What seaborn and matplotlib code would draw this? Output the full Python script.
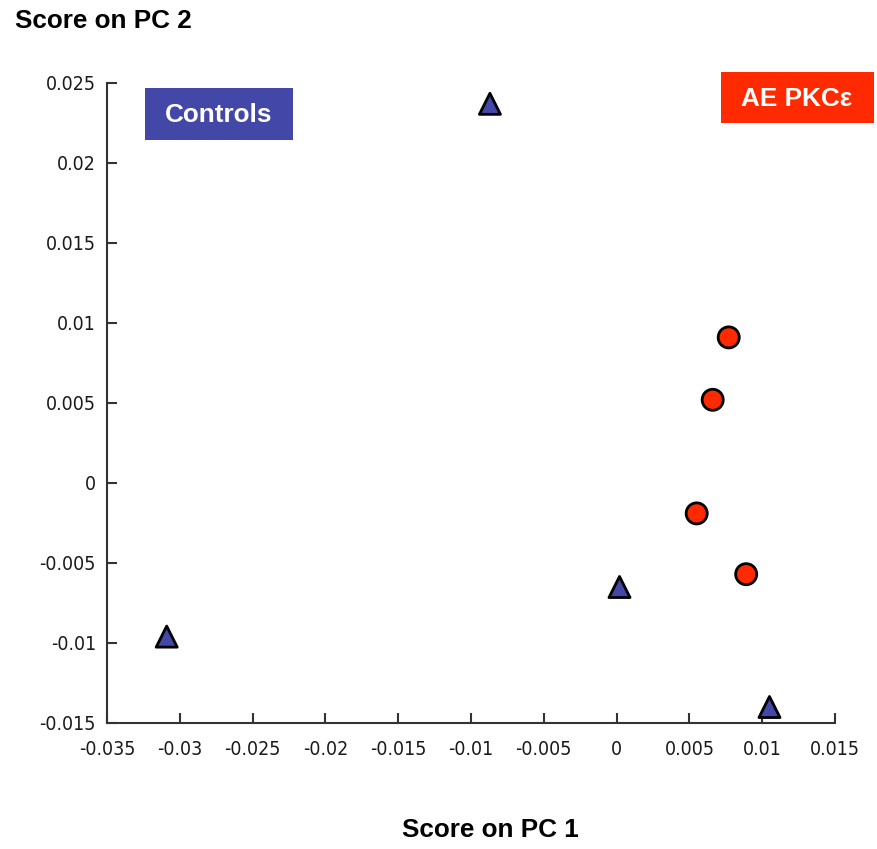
import matplotlib
matplotlib.use("Agg")
import matplotlib.pyplot as plt
from matplotlib.patches import Rectangle
import seaborn as sns
import pandas as pd

# Data
groups = ["Controls", "Controls", "Controls", "Controls",
          "AE PKCε", "AE PKCε", "AE PKCε", "AE PKCε"]
pc1 = [-0.0087, -0.0309, 0.0002, 0.0105, 0.0077, 0.0066, 0.0055, 0.0089]
pc2 = [0.0237, -0.0096, -0.0065, -0.0140, 0.0091, 0.0052, -0.0019, -0.0057]
xticks = [-0.035, -0.03, -0.025, -0.02, -0.015, -0.01, -0.005, 0, 0.005, 0.01, 0.015]
xtick_labels = ["-0.035", "-0.03", "-0.025", "-0.02", "-0.015", "-0.01", "-0.005", "0", "0.005", "0.01", "0.015"]
yticks = [-0.015, -0.01, -0.005, 0, 0.005, 0.01, 0.015, 0.02, 0.025]
ytick_labels = ["-0.015", "-0.01", "-0.005", "0", "0.005", "0.01", "0.015", "0.02", "0.025"]

df = pd.DataFrame({"group": groups, "pc1": pc1, "pc2": pc2})

sns.set_theme(style="white")
plt.rcParams['font.family'] = ['Liberation Sans', 'DejaVu Sans']

W, H = 877, 849
fig = plt.figure(figsize=(W / 100, H / 100), dpi=100)
ax = fig.add_axes([107 / W, 1 - 723 / H, (835 - 107) / W, (723 - 83) / H])

palette = {"Controls": "#4347A8", "AE PKCε": "#FF2A00"}
markers = {"Controls": "^", "AE PKCε": "o"}
sns.scatterplot(data=df, x="pc1", y="pc2", hue="group", style="group",
                palette=palette, markers=markers, s=230, edgecolor="black",
                linewidth=2, legend=False, ax=ax, zorder=3)

ax.set_xlim(-0.035, 0.015)
ax.set_ylim(-0.015, 0.025)
ax.set_xticks(xticks)
ax.set_xticklabels(xtick_labels)
ax.set_yticks(yticks)
ax.set_yticklabels(ytick_labels)
for lab in ax.get_xticklabels() + ax.get_yticklabels():
    lab.set_family('DejaVu Sans')
    lab.set_stretch('condensed')
    lab.set_fontsize(14)
    lab.set_color('#1a1a1a')
ax.tick_params(direction='in', length=7, width=1.5, colors='#333333',
               labelcolor='#1a1a1a', pad=8, bottom=True, left=True)
ax.tick_params(axis='x', pad=12)
for s in ["top", "right"]:
    ax.spines[s].set_visible(False)
for s in ["left", "bottom"]:
    ax.spines[s].set_color('#333333')
    ax.spines[s].set_linewidth(1.5)
ax.set_xlabel("")
ax.set_ylabel("")

title_font = dict(family=['Liberation Sans', 'DejaVu Sans'], fontsize=18.8, fontweight='bold')

fig.text(15 / W, 1 - 21 / H, "Score on PC 2", ha='left', va='center',
         color='black', **title_font)
fig.text(490 / W, 1 - 830 / H, "Score on PC 1", ha='center', va='center',
         color='black', **title_font)

# Group label boxes
fig.add_artist(Rectangle((145 / W, 1 - 140 / H), 148 / W, 52 / H,
                         transform=fig.transFigure, facecolor='#4347A8',
                         edgecolor='none'))
fig.text(219 / W, 1 - 115 / H, "Controls", ha='center', va='center',
         color='white', **title_font)
fig.add_artist(Rectangle((721 / W, 1 - 123 / H), 153 / W, 51 / H,
                         transform=fig.transFigure, facecolor='#FF2A00',
                         edgecolor='none'))
fig.text(797 / W, 1 - 99 / H, "AE PKCε", ha='center', va='center',
         color='white', **title_font)

fig.savefig("out.png", dpi=100, facecolor='white')
